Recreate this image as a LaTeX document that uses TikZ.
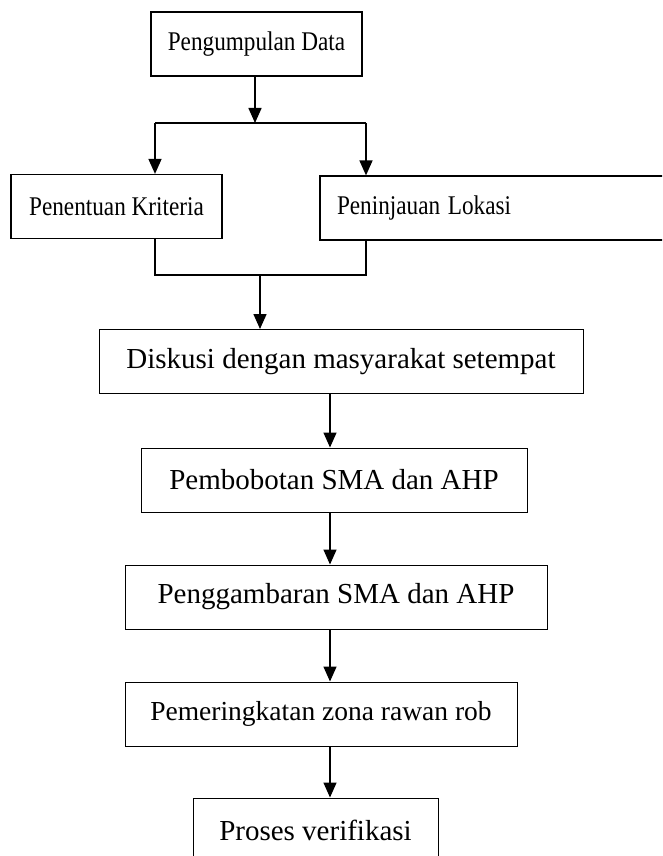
\documentclass[tikz,border=0pt]{standalone}
\usepackage{fontspec}
\usepackage{graphicx}
\setmainfont{Liberation Serif}
\newcommand{\squeezed}[1]{\scalebox{0.86}[1]{#1}}
\usetikzlibrary{arrows.meta}

\begin{document}
\begin{tikzpicture}[x=1pt,y=-1pt,
    topbox/.style={draw,line width=1.2pt,inner sep=0pt,minimum height=64pt,font=\fontsize{27}{32}\selectfont},
    stepbox/.style={draw,line width=1pt,inner sep=0pt,minimum height=64pt,font=\fontsize{29}{34}\selectfont},
    flow/.style={line width=1.5pt,-{Triangle[length=15pt,width=13pt]}},
    link/.style={line width=1.5pt}]
    \useasboundingbox (0,0) rectangle (662,856);
    \clip (0,0) rectangle (662,856);

    \node[topbox,minimum width=211pt] (Data) at (256.5,44) {\squeezed{Pengumpulan Data}};
    \node[topbox,minimum width=211pt] (Kriteria) at (116.5,206.5) {\squeezed{Penentuan Kriteria}};
    \node[topbox,inner xsep=17pt,text width=346pt,align=left] (Lokasi) at (510,208) {\squeezed{Peninjauan Lokasi}};

    \node[stepbox,minimum width=484pt] (Diskusi) at (341,361.5) {Diskusi dengan masyarakat setempat};
    \node[stepbox,minimum width=386pt] (Bobot) at (334,480) {Pembobotan SMA dan AHP};
    \node[stepbox,minimum width=422pt] (Gambar) at (336,597) {Penggambaran SMA dan AHP};
    \node[stepbox,minimum width=392pt,font=\fontsize{27.5}{32}\selectfont] (Peringkat) at (321,714) {Pemeringkatan zona rawan rob};
    \node[stepbox,minimum width=245pt] (Verifikasi) at (315.5,830) {Proses verifikasi};

    \coordinate (split) at (255,123);
    \coordinate (splitL) at (155,123);
    \coordinate (splitR) at (366,123);
    \coordinate (joinL) at (155,275);
    \coordinate (joinR) at (366,275);
    \coordinate (join) at (260,275);
    \coordinate (axis) at (330,0);

    \draw[flow] (Data.south -| split) -- (split);
    \draw[link] (splitL) -- (splitR);
    \draw[flow] (splitL) -- (splitL |- Kriteria.north);
    \draw[flow] (splitR) -- (splitR |- Lokasi.north);
    \draw[link] (Kriteria.south -| joinL) -- (joinL) -- (joinR) -- (Lokasi.south -| joinR);
    \draw[flow] (join) -- (Diskusi.north -| join);
    \draw[flow] (Diskusi.south -| axis) -- (Bobot.north -| axis);
    \draw[flow] (Bobot.south -| axis) -- (Gambar.north -| axis);
    \draw[flow] (Gambar.south -| axis) -- (Peringkat.north -| axis);
    \draw[flow] (Peringkat.south -| axis) -- (Verifikasi.north -| axis);
\end{tikzpicture}
\end{document}
